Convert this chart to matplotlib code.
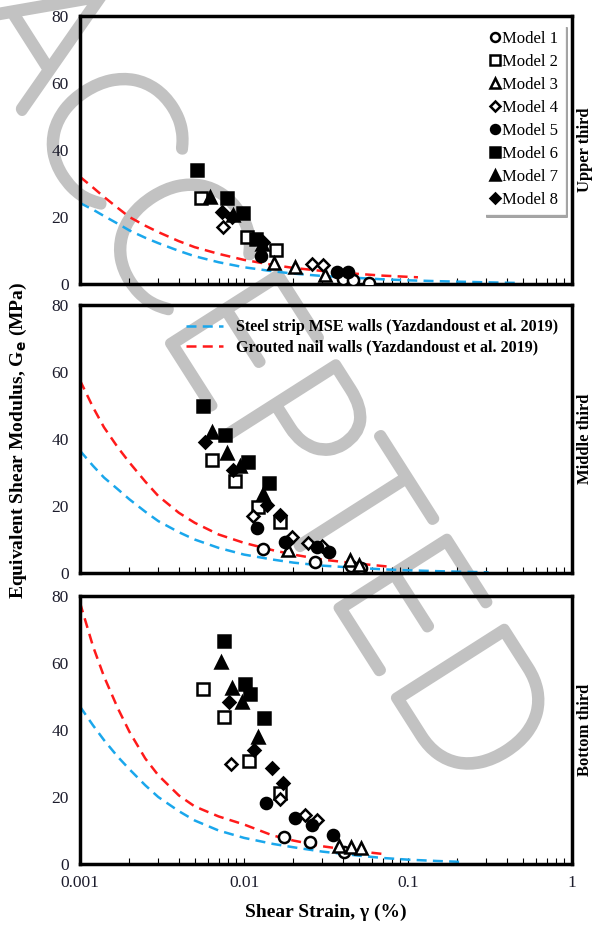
import numpy as np
import matplotlib
matplotlib.use('Agg')
import matplotlib.pyplot as plt
import matplotlib.patheffects as pe
from matplotlib.ticker import LogLocator, NullFormatter, FixedLocator

plt.rcParams['font.family'] = ['Liberation Serif', 'DejaVu Serif']

# reference curves (Yazdandoust et al. 2019)
steel_x = {
    'upper': [0.001, 0.0012, 0.0014, 0.0017, 0.002, 0.0025, 0.003, 0.004, 0.005, 0.007, 0.01,
              0.015, 0.02, 0.03, 0.05, 0.07, 0.1, 0.15, 0.2, 0.3, 0.48],
    'middle': [0.001, 0.0012, 0.0014, 0.0017, 0.002, 0.0025, 0.003, 0.004, 0.005, 0.007, 0.01,
               0.015, 0.02, 0.03, 0.05, 0.07, 0.1, 0.15, 0.2, 0.31],
    'bottom': [0.001, 0.0012, 0.0014, 0.0017, 0.002, 0.0025, 0.003, 0.004, 0.005, 0.007, 0.01,
               0.015, 0.02, 0.03, 0.05, 0.07, 0.1, 0.15, 0.22],
}
steel_y = {
    'upper': [24.2, 22.2, 20.3, 18, 16, 13.8, 12.2, 9.9, 8.3, 6.5, 5.0,
              3.8, 3.1, 2.4, 1.8, 1.4, 1.1, 0.85, 0.7, 0.5, 0.3],
    'middle': [36.5, 32, 28.5, 25, 22, 18.3, 15.5, 12.2, 10, 7.5, 5.5,
               4.0, 3.1, 2.2, 1.5, 1.1, 0.8, 0.55, 0.4, 0.2],
    'bottom': [47, 41.4, 37, 32, 28.3, 23.5, 20, 15.8, 13, 10, 7.8,
               6.0, 5.0, 3.7, 2.5, 1.8, 1.3, 0.9, 0.6],
}
nail_x = {
    'upper': [0.001, 0.0012, 0.0014, 0.0017, 0.002, 0.0025, 0.003, 0.004, 0.005, 0.007, 0.01,
              0.015, 0.02, 0.03, 0.05, 0.07, 0.115],
    'middle': [0.001, 0.0012, 0.0014, 0.0017, 0.002, 0.0025, 0.003, 0.004, 0.005, 0.007, 0.01,
               0.015, 0.02, 0.03, 0.05, 0.08],
    'bottom': [0.001, 0.0012, 0.0014, 0.0017, 0.002, 0.0025, 0.003, 0.004, 0.005, 0.007, 0.01,
               0.015, 0.02, 0.03, 0.05, 0.07],
}
nail_y = {
    'upper': [32, 28.8, 26, 22.7, 20, 17.4, 15.5, 12.8, 11, 9, 7.2,
              5.7, 4.8, 3.9, 3.0, 2.5, 2.0],
    'middle': [57.5, 49.5, 43.5, 37.5, 33, 27.3, 23, 18, 15, 11.5, 9,
               6.8, 5.5, 4.0, 2.8, 1.8],
    'bottom': [78, 65, 56, 46.5, 39.5, 31.5, 26.5, 20.5, 17.2, 14.2, 11.8,
               8.5, 7.0, 5.3, 3.8, 3.0],
}

# measured points: model -> (shear strain %, G MPa)
upper = {
    1: ([0.040, 0.046, 0.058], [1.5, 1.2, 0.4]),
    2: ([0.0055, 0.0104, 0.0157], [25.7, 14, 10.1]),
    3: ([0.0153, 0.0205, 0.031], [6.3, 5.2, 2.6]),
    4: ([0.00745, 0.0259, 0.0303], [17, 6, 5.7]),
    5: ([0.0127, 0.0369, 0.043], [8.4, 3.6, 3.6]),
    6: ([0.00517, 0.0079, 0.0098, 0.0119], [34, 25.7, 21.2, 13.4]),
    7: ([0.0062, 0.0086, 0.0128], [26, 20.5, 12]),
    8: ([0.0073, 0.0085, 0.013], [21.5, 20, 12.5]),
}
middle = {
    1: ([0.013, 0.027, 0.045, 0.052], [7.2, 3.3, 2.2, 1.5]),
    2: ([0.0064, 0.0088, 0.0122, 0.0166], [33.7, 27.5, 19.7, 15.2]),
    3: ([0.0185, 0.044, 0.05], [6.9, 3.9, 2.5]),
    4: ([0.0113, 0.0196, 0.0245, 0.030], [17, 10.7, 9, 8]),
    5: ([0.012, 0.0178, 0.028, 0.033], [13.4, 9.3, 7.8, 6.3]),
    6: ([0.00562, 0.00766, 0.0106, 0.0142], [49.9, 41.2, 33.1, 26.9]),
    7: ([0.00638, 0.0079, 0.0094, 0.013], [42, 35.8, 32, 23.6]),
    8: ([0.0058, 0.0086, 0.0138, 0.0166, 0.0183], [39, 30.7, 20.3, 17.3, 9.3]),
}
bottom = {
    1: ([0.0175, 0.0253, 0.041], [8.1, 6.6, 3.6]),
    2: ([0.0056, 0.0076, 0.0107, 0.0166], [52.2, 43.9, 30.7, 21.2]),
    3: ([0.038, 0.045, 0.052], [5.5, 5.2, 4.8]),
    4: ([0.0083, 0.0166, 0.0236, 0.028], [29.9, 19.5, 14.6, 13.1]),
    5: ([0.0136, 0.0205, 0.026, 0.035], [18.2, 13.7, 11.6, 8.7]),
    6: ([0.00755, 0.0101, 0.0109, 0.0132], [66.6, 53.7, 50.7, 43.6]),
    7: ([0.0072, 0.0084, 0.0097, 0.0122], [60.3, 52.5, 48.4, 37.9]),
    8: ([0.0081, 0.0115, 0.0148, 0.0172], [48.4, 34, 28.7, 24.2]),
}
panel_names = ['upper', 'middle', 'bottom']
panel_data = [upper, middle, bottom]
panel_titles = ['Upper third', 'Middle third', 'Bottom third']

# marker, filled?
styles = {1: ('o', False), 2: ('s', False), 3: ('^', False), 4: ('D', False),
          5: ('o', True), 6: ('s', True), 7: ('^', True), 8: ('D', True)}
msizes = {'o': 8, 's': 8.5, '^': 8.5, 'D': 6.5}

fig = plt.figure(figsize=(5.93, 9.27), dpi=100)

# watermark, behind everything (thin font thickened with a stroke)
fig.text(0.425, 0.59, 'ACCEPTED', rotation=-57.5, fontsize=132, color='#c2c2c2',
         family=['Lato', 'DejaVu Sans'], fontweight='light', ha='center', va='center',
         zorder=-5, path_effects=[pe.withStroke(linewidth=7.5, foreground='#c2c2c2')])

lefts = 80 / 593
width = 492 / 593
tops = [16, 305, 596]
h = 268 / 927
axes = []
for i, name in enumerate(panel_names):
    ax = fig.add_axes([lefts, 1 - (tops[i] + 268) / 927, width, h])
    ax.set_facecolor('none')
    ax.set_xscale('log')
    ax.set_xlim(0.001, 1)
    ax.set_ylim(0, 80)
    ax.plot(steel_x[name], steel_y[name], color='#1aa7ec', ls=(0, (4, 2.5)), lw=1.8, zorder=2,
            label='Steel strip MSE walls (Yazdandoust et al. 2019)')
    ax.plot(nail_x[name], nail_y[name], color='#ff1a1a', ls=(0, (4, 2.5)), lw=1.8, zorder=2,
            label='Grouted nail walls (Yazdandoust et al. 2019)')
    for m in range(1, 9):
        mk, filled = styles[m]
        xs, ys = panel_data[i][m]
        ax.plot(xs, ys, ls='none', marker=mk, ms=msizes[mk],
                mfc='black' if filled else 'white', mec='black', mew=1.8,
                zorder=3, label=f'Model {m}')
    for s in ax.spines.values():
        s.set_linewidth(2.5)
    ax.yaxis.set_major_locator(FixedLocator([0, 20, 40, 60, 80]))
    ax.xaxis.set_major_locator(LogLocator(base=10, numticks=10))
    ax.xaxis.set_minor_locator(LogLocator(base=10, subs=np.arange(2, 10), numticks=20))
    ax.xaxis.set_minor_formatter(NullFormatter())
    ax.tick_params(axis='x', which='both', direction='in', length=4, width=0.8, top=False)
    ax.tick_params(axis='y', length=0, pad=8, labelsize=12.5, labelcolor='#1c1c2c')
    ax.tick_params(axis='x', labelsize=12.5, labelcolor='#1c1c2c', pad=8)
    if i < 2:
        ax.set_xticklabels([])
    else:
        ax.set_xticks([0.001, 0.01, 0.1, 1])
        ax.set_xticklabels(['0.001', '0.01', '0.1', '1'])
    fig.text(585 / 593, 1 - (tops[i] + 134) / 927, panel_titles[i], rotation=90,
             ha='center', va='center', fontsize=12, fontweight='bold')
    axes.append(ax)

# model legend in the top panel
hd, lb = axes[0].get_legend_handles_labels()
leg = axes[0].legend(hd[2:], lb[2:], loc='upper right', bbox_to_anchor=(0.985, 0.97),
                     fontsize=12, handlelength=0.7, handletextpad=0.05, labelspacing=0.42,
                     borderpad=0.4, frameon=True, shadow=True, fancybox=False,
                     markerscale=0.8, borderaxespad=0)
leg.get_frame().set_edgecolor('white')
leg.get_frame().set_linewidth(0.5)

# curve legend in the middle panel
hd, lb = axes[1].get_legend_handles_labels()
leg2 = axes[1].legend(hd[:2], lb[:2], loc='upper right', bbox_to_anchor=(1.0, 1.0),
                      frameon=False, handlelength=2.3, handletextpad=0.8, labelspacing=0.25,
                      prop={'weight': 'bold', 'size': 11.5})

fig.text(18 / 593, 1 - 440 / 927, r'Equivalent Shear Modulus, G$_\mathbf{e}$ (MPa)',
         rotation=90, ha='center', va='center', fontsize=14, fontweight='bold')
fig.text(326 / 593, 1 - 912 / 927, 'Shear Strain, γ (%)', ha='center', va='center',
         fontsize=14, fontweight='bold')

plt.savefig('out.png', dpi=100)
